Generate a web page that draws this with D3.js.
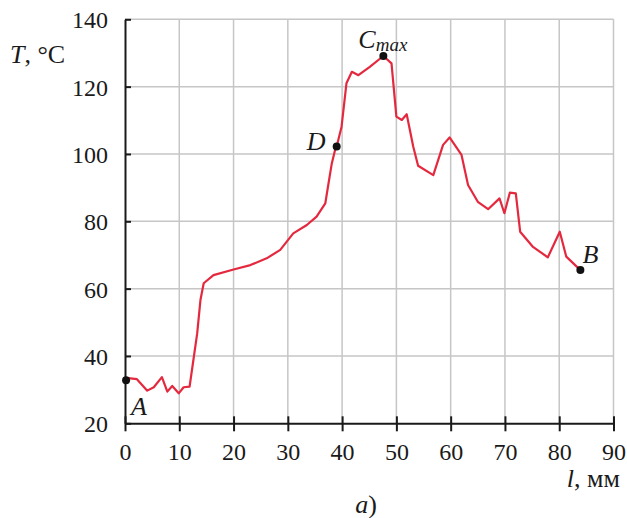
<!DOCTYPE html>
<html>
<head>
<meta charset="utf-8">
<script src="https://cdn.jsdelivr.net/npm/d3@7"></script>
<style>
  body { margin: 0; background: #fff; }
  svg { display: block; }
  text { font-family: "Liberation Serif", "DejaVu Serif", serif; fill: #1a1a1a; }
</style>
</head>
<body>
<svg id="chart" width="627" height="518"></svg>
<script>
// temperature profile along the sample
var lengths = [0.3, 0.6, 2.2, 4.1, 5.3, 6.8, 7.8, 8.7, 9.9, 10.8, 11.9, 12.6, 13.3, 13.9,
    14.5, 16.3, 20.0, 23.1, 26.1, 28.6, 31.0, 33.5, 35.3, 36.9, 37.5, 38.1, 38.7, 39.0,
    39.9, 40.8, 41.8, 43.0, 45.1, 47.6, 49.1, 50.0, 51.0, 51.9, 53.1, 54.0, 56.8, 58.6,
    59.8, 62.0, 63.2, 65.0, 66.9, 69.0, 69.9, 70.9, 72.0, 72.8, 75.1, 77.9, 80.1, 81.3, 83.9];
var temps = [33.0, 33.4, 33.1, 29.7, 30.7, 33.7, 29.4, 31.1, 28.9, 30.7, 30.9, 38.8, 46.7, 56.6,
    61.6, 64.0, 65.7, 67.0, 69.0, 71.5, 76.4, 78.9, 81.4, 85.3, 91.3, 97.2, 101.2, 102.2,
    108.1, 121.0, 124.4, 123.4, 125.9, 129.1, 126.9, 111.1, 110.1, 111.8, 102.2, 96.5, 93.7, 102.7,
    104.9, 99.7, 90.8, 85.8, 83.6, 86.8, 82.4, 88.5, 88.3, 76.9, 72.5, 69.3, 76.9, 69.5, 65.5];

var markNames = ["A", "D", "C", "B"];
var markL = [0.2, 39.0, 47.6, 83.9];
var markT = [32.8, 102.2, 129.1, 65.5];

var xTicks = [0, 10, 20, 30, 40, 50, 60, 70, 80, 90];
var yTicks = [20, 40, 60, 80, 100, 120, 140];

var svg = d3.select("#chart");
var plotL = 125, plotR = 613.5, plotT = 19.3, plotB = 423.3;

var x = d3.scaleLinear().domain([0, 90]).range([plotL, plotR]);
var y = d3.scaleLinear().domain([20, 140]).range([plotB, plotT]);

// grid
svg.append("g").selectAll("line").data(xTicks.slice(1)).enter()
    .append("line")
    .attr("x1", function(d) { return x(d); })
    .attr("x2", function(d) { return x(d); })
    .attr("y1", plotT).attr("y2", plotB)
    .attr("stroke", "#c6c6c6").attr("stroke-width", 1.5);
svg.append("g").selectAll("line").data(yTicks.slice(1)).enter()
    .append("line")
    .attr("y1", function(d) { return y(d); })
    .attr("y2", function(d) { return y(d); })
    .attr("x1", plotL).attr("x2", plotR)
    .attr("stroke", "#c6c6c6").attr("stroke-width", 1.5);

// axes
var xAxis = svg.append("g").attr("transform", "translate(0," + plotB + ")")
    .call(d3.axisBottom(x).tickValues(xTicks).tickSizeInner(8).tickSizeOuter(0).tickPadding(12));
var yAxis = svg.append("g").attr("transform", "translate(" + plotL + ",0)")
    .call(d3.axisLeft(y).tickValues(yTicks).tickSizeInner(12).tickSizeOuter(0).tickPadding(5));

[xAxis, yAxis].forEach(function(a) {
    a.select(".domain").attr("stroke", "#1a1a1a").attr("stroke-width", 2);
    a.selectAll(".tick line").attr("stroke", "#1a1a1a").attr("stroke-width", 2);
    a.selectAll(".tick text").attr("font-size", 24)
        .attr("font-family", "Liberation Serif").attr("fill", "#1a1a1a");
});
// ticks cross the axis line
xAxis.selectAll(".tick line").attr("y1", -7);
yAxis.selectAll(".tick line").attr("x2", 6);
yAxis.selectAll(".tick text").attr("dy", "0.35em");

// curve
var pts = lengths.map(function(d, i) { return [d, temps[i]]; });
svg.append("path")
    .datum(pts)
    .attr("fill", "none")
    .attr("stroke", "#e4293f")
    .attr("stroke-width", 2.2)
    .attr("stroke-linejoin", "round")
    .attr("d", d3.line().x(function(d) { return x(d[0]); }).y(function(d) { return y(d[1]); }));

// marked points
svg.append("g").selectAll("circle").data(markNames).enter()
    .append("circle")
    .attr("cx", function(d, i) { return x(markL[i]); })
    .attr("cy", function(d, i) { return y(markT[i]); })
    .attr("r", 4)
    .attr("fill", "#111");

var labelOff = { A: [5, 35], D: [-30, 3], C: [-25, -8], B: [2, -7] };
markNames.forEach(function(n, i) {
    var t = svg.append("text")
        .attr("x", x(markL[i]) + labelOff[n][0])
        .attr("y", y(markT[i]) + labelOff[n][1])
        .attr("font-size", 26)
        .attr("font-style", "italic")
        .text(n);
    if (n == "C") {
        t.append("tspan").attr("font-size", 19).attr("dy", 3).text("max");
    }
});

// axis titles
var tl = svg.append("text").attr("x", 10).attr("y", 63).attr("font-size", 26);
tl.append("tspan").attr("font-style", "italic").text("T");
tl.append("tspan").text(", \u00b0C");

var xl = svg.append("text").attr("x", 620).attr("y", 487).attr("font-size", 26)
    .attr("text-anchor", "end");
xl.append("tspan").attr("font-style", "italic").text("l");
xl.append("tspan").text(", мм");

var cap = svg.append("text").attr("x", 366).attr("y", 513).attr("font-size", 26)
    .attr("text-anchor", "middle");
cap.append("tspan").attr("font-style", "italic").text("a");
cap.append("tspan").text(")");
</script>
</body>
</html>
